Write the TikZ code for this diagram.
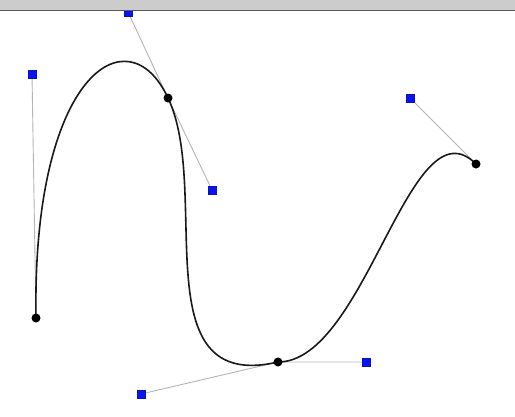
\documentclass[tikz,border=0pt]{standalone}
\definecolor{ctrlblue}{HTML}{0A14F0}
\definecolor{bargray}{HTML}{CCCCCC}
\definecolor{handlegray}{HTML}{B4B4B4}

\tikzset{
  knot/.style={circle, fill=black, inner sep=0pt, minimum size=9pt},
  ctrlsq/.style={rectangle, fill=ctrlblue, draw=ctrlblue!80!black, line width=0.5pt, inner sep=0pt, minimum size=8pt},
  handle/.style={draw=handlegray, line width=0.9pt},
  spline/.style={draw=black!90, line width=1.6pt},
}

\begin{document}
\begin{tikzpicture}[x=1pt, y=-1pt]
  \useasboundingbox (0,0) rectangle (515,416);
  % knots and control points (pixel positions)
  \foreach \n/\p in {p0/{36,318}, p1/{168,98}, p2/{278,362}, p3/{476,164}}{
    \coordinate (\n) at (\p);
  }
  \foreach \n/\p in {c0/{32,74}, c1/{128,12}, c2/{212,190}, c3/{141,394}, c4/{366,362}, c5/{410,98}}{
    \coordinate (\n) at (\p);
  }
  % handles
  \draw[handle] (p0) -- (c0);
  \draw[handle] (c1) -- (p1) -- (c2);
  \draw[handle] (c3) -- (p2) -- (c4);
  \draw[handle] (c5) -- (p3);
  % the spline
  \draw[spline] (p0) .. controls (c0) and (c1) .. (p1)
                     .. controls (c2) and (c3) .. (p2)
                     .. controls (c4) and (c5) .. (p3);
  % markers
  \foreach \n in {c0, c1, c2, c3, c4, c5}{
    \node[ctrlsq] (\n sq) at (\n) {};
  }
  \foreach \n in {p0, p1, p2, p3}{
    \node[knot] (\n dot) at (\n) {};
  }
  % window bar
  \fill[bargray] (0,0) rectangle (515,10);
  \draw[black!65, line width=1.3pt] (0,10.5) -- (515,10.5);
\end{tikzpicture}
\end{document}
